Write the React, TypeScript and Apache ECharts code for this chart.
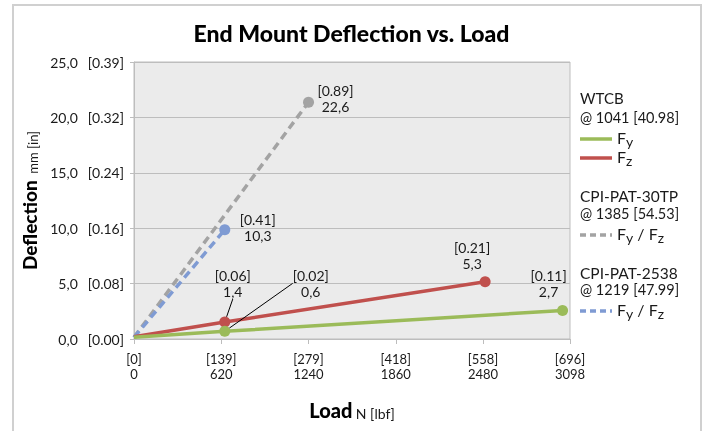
import React, { useEffect, useRef } from 'react';
import * as echarts from 'echarts';

// Axis ticks
const xTicks = [0, 620, 1240, 1860, 2480, 3098];
const xTickN = ['0', '620', '1240', '1860', '2480', '3098'];
const xTickLbf = ['[0]', '[139]', '[279]', '[418]', '[558]', '[696]'];
const yTicks = [0, 5, 10, 15, 20, 25];
const yTickMm = ['0,0', '5,0', '10,0', '15,0', '20,0', '25,0'];
const yTickIn = ['[0.00]', '[0.08]', '[0.16]', '[0.24]', '[0.32]', '[0.39]'];

// WTCB Fy
const wtcbFyX = [0, 645, 3045];
const wtcbFyY = [0.15, 0.69, 2.58];
const wtcbFyLabels = ['', '[0.02]\n0,6', '[0.11]\n2,7'];
// WTCB Fz
const wtcbFzX = [0, 645, 2495];
const wtcbFzY = [0.2, 1.53, 5.17];
const wtcbFzLabels = ['', '[0.06]\n1,4', '[0.21]\n5,3'];
// CPI-PAT-30TP Fy/Fz
const pat30X = [0, 1240];
const pat30Y = [0.15, 21.37];
const pat30Labels = ['', '[0.89]\n22,6'];
// CPI-PAT-2538 Fy/Fz
const pat2538X = [0, 645];
const pat2538Y = [0.15, 9.86];
const pat2538Labels = ['', '[0.41]\n10,3'];

const FONT = 'Lato, "Noto Sans", sans-serif';
const GREEN = '#9bbb59';
const RED = '#c0504d';
const GRAY = '#a3a3a3';
const BLUE = '#7f9bd3';

function buildSeries(
  name: string,
  xs: number[],
  ys: number[],
  labels: string[],
  offsets: number[][],
  leaders: boolean[],
  color: string,
  dashed: boolean,
  z: number
) {
  return {
    type: 'line',
    name,
    z,
    lineStyle: { color, width: 3.5, type: dashed ? [8, 5] : 'solid', cap: 'butt' },
    itemStyle: { color },
    data: xs.map((x, i) => ({
      value: [x, ys[i]],
      symbol: i === 0 ? 'none' : 'circle',
      symbolSize: 11,
      label: labels[i]
        ? {
            show: true,
            position: 'inside',
            offset: offsets[i],
            formatter: labels[i],
            fontFamily: FONT,
            fontSize: 14,
            lineHeight: 16,
            color: '#1a1a1a',
            align: 'center',
            verticalAlign: 'middle',
          }
        : { show: false },
      labelLine: leaders[i]
        ? { show: true, lineStyle: { color: '#000', width: 1 } }
        : { show: false },
    })),
  };
}

export default function App() {
  const ref = useRef<HTMLDivElement>(null);
  useEffect(() => {
    if (!ref.current) return;
    const chart = echarts.init(ref.current, undefined, { renderer: 'svg' });
    const legendText = (text: string, x: number, y: number, size: number) => ({
      type: 'text',
      x,
      y,
      style: { text, fontFamily: FONT, fontSize: size, fill: '#1a1a1a', verticalAlign: 'middle' },
    });
    const fText = (text: string, x: number, y: number) => ({
      type: 'text',
      x,
      y,
      style: {
        text,
        fontFamily: FONT,
        fontSize: 16,
        fill: '#1a1a1a',
        verticalAlign: 'middle',
        rich: { s: { fontFamily: FONT, fontSize: 14, fill: '#1a1a1a', padding: [8, 0, 0, 0] } },
      },
    });
    const legLine = (y: number, color: string, dashed: boolean) => ({
      type: 'line',
      shape: { x1: 580, y1: y, x2: 612, y2: y },
      style: { stroke: color, lineWidth: 3.5, lineDash: dashed ? [6, 4] : null },
    });
    chart.setOption({
      animation: false,
      title: {
        text: 'End Mount Deflection vs. Load',
        left: 'center',
        top: 16,
        textStyle: { fontFamily: FONT, fontSize: 23, fontWeight: 900, color: '#000' },
      },
      grid: {
        left: 134,
        top: 62,
        right: 133,
        bottom: 92,
        show: true,
        backgroundColor: '#ebebeb',
        borderColor: '#bdbdbd',
        borderWidth: 1,
      },
      xAxis: {
        type: 'value',
        min: 0,
        max: 3098,
        interval: 620,
        name: '{b|Load} {s|N [lbf]}',
        nameLocation: 'middle',
        nameGap: 61,
        nameTextStyle: {
          rich: {
            b: { fontFamily: FONT, fontSize: 20, fontWeight: 900, color: '#000', verticalAlign: 'bottom' },
            s: { fontFamily: FONT, fontSize: 14, color: '#1a1a1a', verticalAlign: 'bottom' },
          },
        },
        axisLine: { lineStyle: { color: '#bdbdbd' } },
        axisTick: { show: true, length: 5, lineStyle: { color: '#bdbdbd' } },
        splitLine: { show: false },
        axisLabel: {
          margin: 12,
          fontFamily: FONT,
          fontSize: 13,
          lineHeight: 15,
          color: '#1a1a1a',
          formatter: (v: number) => {
            const i = xTicks.indexOf(v);
            return i >= 0 ? `${xTickLbf[i]}\n${xTickN[i]}` : '';
          },
        },
      },
      yAxis: {
        type: 'value',
        min: 0,
        max: 25,
        interval: 5,
        name: '{b|Deflection}  {s|mm [in]}',
        nameLocation: 'middle',
        nameRotate: 90,
        nameGap: 93,
        nameTextStyle: {
          rich: {
            b: { fontFamily: FONT, fontSize: 19, fontWeight: 900, color: '#000', verticalAlign: 'bottom' },
            s: { fontFamily: FONT, fontSize: 13, color: '#1a1a1a', verticalAlign: 'bottom' },
          },
        },
        axisLine: { show: true, lineStyle: { color: '#bdbdbd' } },
        axisTick: { show: true, length: 4, lineStyle: { color: '#bdbdbd' } },
        splitLine: { show: true, lineStyle: { color: '#bdbdbd', width: 1 } },
        axisLabel: {
          margin: 10,
          fontFamily: FONT,
          fontSize: 14,
          color: '#1a1a1a',
          formatter: (v: number) => {
            const i = yTicks.indexOf(v);
            return i >= 0 ? `{a|${yTickMm[i]}}{b|${yTickIn[i]}}` : '';
          },
          rich: {
            a: { fontFamily: FONT, fontSize: 14, color: '#1a1a1a' },
            b: { fontFamily: FONT, fontSize: 14, color: '#1a1a1a', padding: [0, 0, 0, 10] },
          },
        },
      },
      series: [
        buildSeries('CPI-PAT-30TP', pat30X, pat30Y, pat30Labels, [[0, 0], [27, -4]], [false, false], GRAY, true, 2),
        buildSeries('CPI-PAT-2538', pat2538X, pat2538Y, pat2538Labels, [[0, 0], [33, -2]], [false, false], BLUE, true, 3),
        buildSeries('WTCB Fz', wtcbFzX, wtcbFzY, wtcbFzLabels, [[0, 0], [8, -39], [-13, -26]], [false, true, false], RED, false, 4),
        buildSeries('WTCB Fy', wtcbFyX, wtcbFyY, wtcbFyLabels, [[0, 0], [86, -48], [-14, -27]], [false, true, false], GREEN, false, 5),
      ],
      graphic: [
        {
          type: 'rect',
          z: -10,
          silent: true,
          shape: { x: 13, y: 5, width: 688, height: 440 },
          style: { fill: 'none', stroke: '#d0d0d0', lineWidth: 2 },
        },
        legendText('WTCB', 580, 98, 15),
        legendText('@ 1041 [40.98]', 580, 117, 14.5),
        legLine(139, GREEN, false),
        fText('F{s|y}', 617, 137),
        legLine(158, RED, false),
        fText('F{s|z}', 617, 156),
        legendText('CPI-PAT-30TP', 580, 196, 15.5),
        legendText('@ 1385 [54.53]', 580, 213, 14.5),
        legLine(235, GRAY, true),
        fText('F{s|y} / F{s|z}', 617, 233),
        legendText('CPI-PAT-2538', 580, 272.5, 15.5),
        legendText('@ 1219 [47.99]', 580, 289, 14.5),
        legLine(311, BLUE, true),
        fText('F{s|y} / F{s|z}', 617, 309),
      ],
    });
    return () => chart.dispose();
  }, []);
  return (
    <div
      ref={ref}
      style={{ position: 'fixed', left: 0, top: 0, width: 703, height: 431 }}
    />
  );
}
